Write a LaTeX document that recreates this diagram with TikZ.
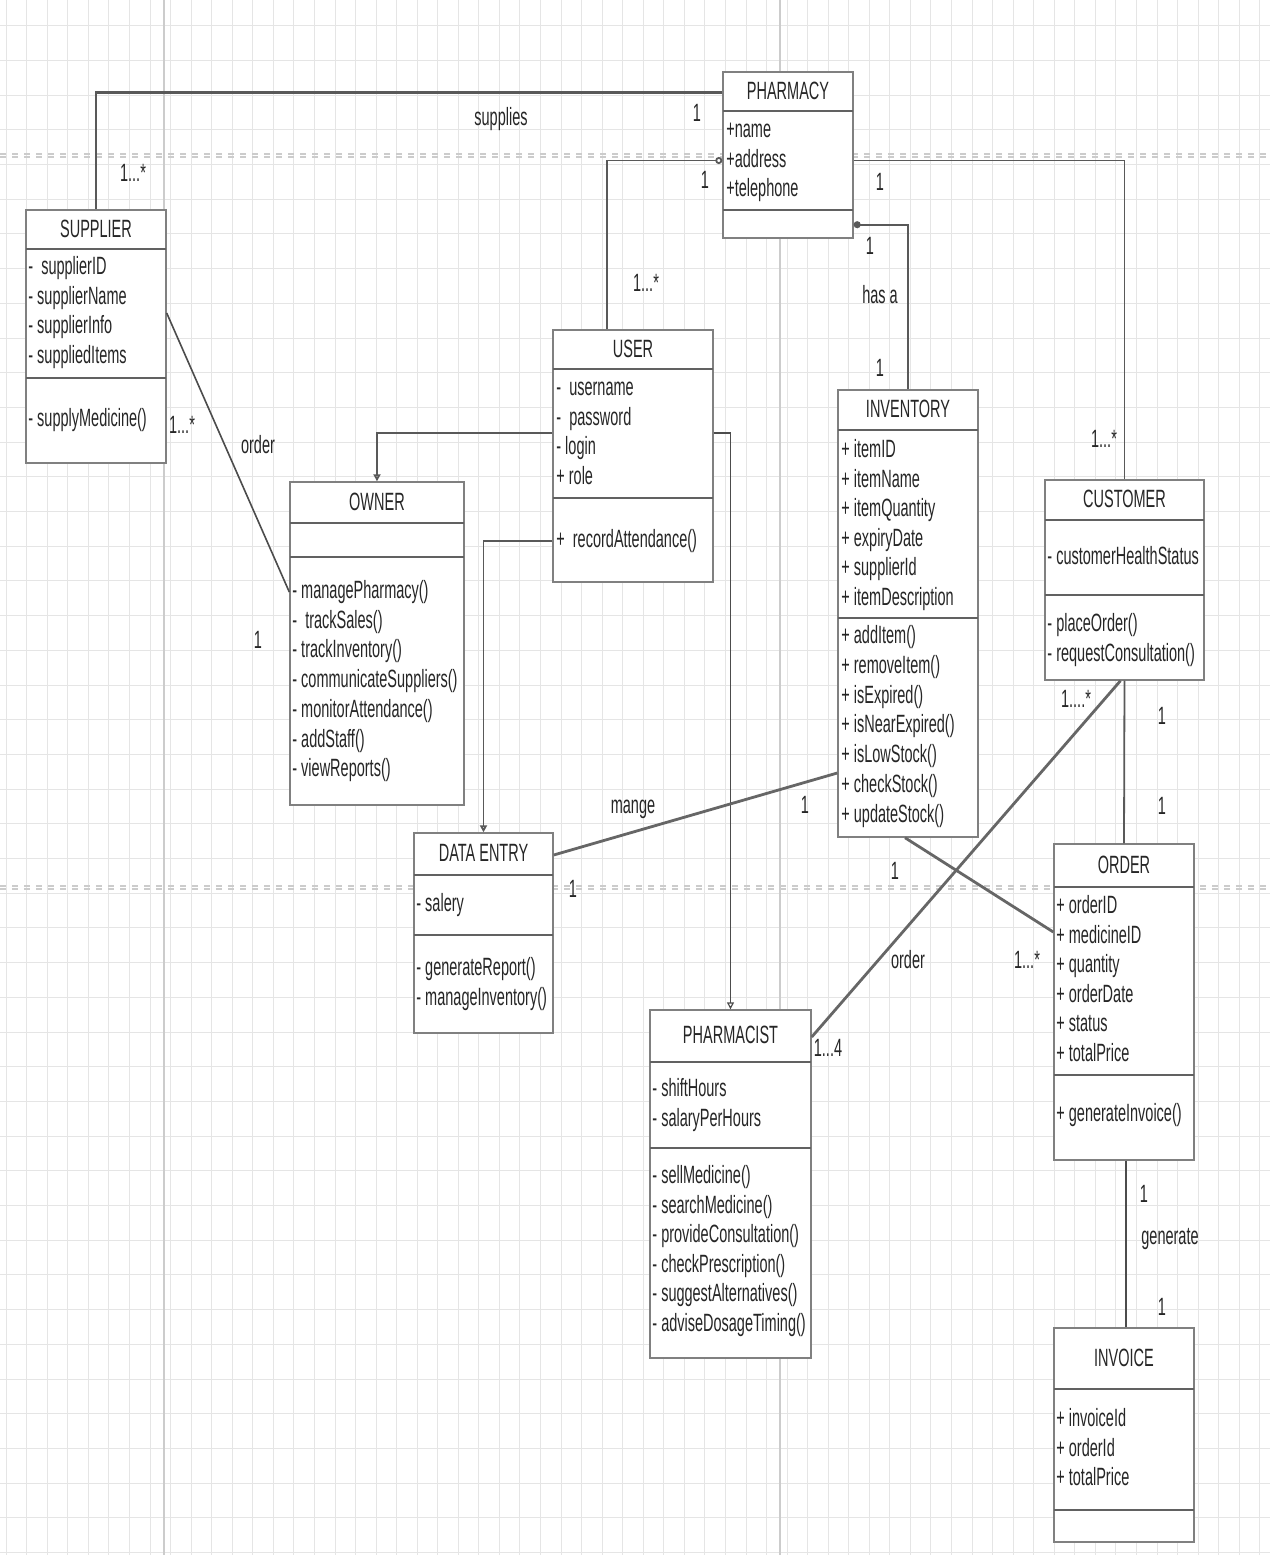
\documentclass[tikz,border=0pt]{standalone}
\usepackage{fontspec}
\setmainfont{Liberation Sans}[FakeStretch=0.58]
\usetikzlibrary{arrows.meta,fit}
\tikzset{
  umlbox/.style={draw=black!50, line width=0.7pt, fill=white, inner sep=0pt},
  divider/.style={draw=black!62, line width=1.3pt},
  ttl/.style={font=\fontsize{12.5pt}{15pt}\selectfont, text=black!85, inner sep=0pt, text height=9pt, text depth=2.5pt},
  txt/.style={ttl, anchor=west},
  lbl/.style={ttl},
  conn/.style={draw=black!65, line width=0.9pt},
  thickconn/.style={draw=black!60, line width=1.4pt},
  thinconn/.style={draw=black!70, line width=0.6pt},
  genarrow/.style={-{Triangle[open,length=3.5pt,width=3.5pt]}},
  gridminor/.style={draw=black!10, line width=0.4pt},
  gridmajor/.style={draw=black!20, line width=0.6pt},
}
\newcommand\classlines[5]{\foreach \t [count=\k] in {#5} {\node[txt] (#1-\k) at (#2,{#3+(\k-1)*#4}) {\t};}}
% name, x1, y1, x2, y2, title, divider1, divider2
\newcommand\umlclass[8]{%
  \node[umlbox, fit={(#2,#3) (#4,#5)}] (#1) {};
  \draw[divider] (#2,#7) -- (#4,#7);
  \draw[divider] (#2,#8) -- (#4,#8);
  \node[ttl] (#1-t) at ({(#2+#4)/2},{(#3+#7)/2+1}) {#6};}
\begin{document}
\begin{tikzpicture}[x=0.5pt,y=-0.5pt]
\useasboundingbox (0,0) rectangle (1270,1555);
\fill[white] (0,0) rectangle (1270,1555);
% background grid
\foreach \gx in {6.1,26.65,...,1270} \draw[gridminor] (\gx,0) -- (\gx,1555);
\foreach \gy in {25.6,60.3,...,1555} \draw[gridminor] (0,\gy) -- (1270,\gy);
\draw[gridmajor] (164,0) -- (164,1555);
\draw[gridmajor] (780,0) -- (780,1555);
\draw[gridmajor, dashed] (0,154) -- (1270,154);
\draw[gridmajor, dashed] (0,157) -- (1270,157);
\draw[gridmajor, dashed] (0,886) -- (1270,886);
\draw[gridmajor, dashed] (0,889) -- (1270,889);

% PHARMACY
\umlclass{pharm}{723}{72}{853}{238}{PHARMACY}{111}{210}
\classlines{pharm-a}{726}{131}{29.5}{+name,+address,+telephone}

% SUPPLIER
\umlclass{sup}{26}{210}{166}{463}{SUPPLIER}{249}{378}
\classlines{sup-a}{28}{268}{29.7}{-\ \ supplierID,- supplierName,- supplierInfo,- suppliedItems}
\classlines{sup-m}{28}{420}{29.7}{- supplyMedicine()}

% USER
\umlclass{user}{553}{330}{713}{582}{USER}{369}{498}
\classlines{user-a}{556}{389}{29.7}{-\ \ username,-\ \ password,- login,+ role}
\classlines{user-m}{556}{541}{29.7}{+\ \ recordAttendance()}

% OWNER
\umlclass{owner}{290}{482}{464}{805}{OWNER}{523}{557}
\classlines{owner-m}{292}{592}{29.7}{- managePharmacy(),-\ \ trackSales(),- trackInventory(),- communicateSuppliers(),- monitorAttendance(),- addStaff(),- viewReports()}

% INVENTORY
\umlclass{inv}{838}{390}{978}{837}{INVENTORY}{430}{618}
\classlines{inv-a}{841}{451}{29.5}{+ itemID,+ itemName,+ itemQuantity,+ expiryDate,+ supplierId,+ itemDescription}
\classlines{inv-m}{841}{637}{29.8}{+ addItem(),+ removeItem(),+ isExpired(),+ isNearExpired(),+ isLowStock(),+ checkStock(),+ updateStock()}

% CUSTOMER
\umlclass{cust}{1045}{480}{1204}{680}{CUSTOMER}{520}{595}
\classlines{cust-a}{1047}{558}{29.5}{- customerHealthStatus}
\classlines{cust-m}{1047}{625}{29.5}{- placeOrder(),- requestConsultation()}

% DATA ENTRY
\umlclass{de}{414}{833}{553}{1033}{DATA ENTRY}{875}{935}
\classlines{de-a}{416}{905}{29.5}{- salery}
\classlines{de-m}{416}{969}{29.5}{- generateReport(),- manageInventory()}

% PHARMACIST
\umlclass{phc}{650}{1010}{811}{1358}{PHARMACIST}{1062}{1148}
\classlines{phc-a}{652}{1090}{29.6}{- shiftHours,- salaryPerHours}
\classlines{phc-m}{652}{1177}{29.6}{- sellMedicine(),- searchMedicine(),- provideConsultation(),- checkPrescription(),- suggestAlternatives(),- adviseDosageTiming()}

% ORDER
\umlclass{order}{1054}{844}{1194}{1160}{ORDER}{887}{1075}
\classlines{order-a}{1056}{907}{29.5}{+ orderID,+ medicineID,+ quantity,+ orderDate,+ status,+ totalPrice}
\classlines{order-m}{1056}{1115}{29.5}{+ generateInvoice()}

% INVOICE
\umlclass{invoice}{1054}{1328}{1194}{1542}{INVOICE}{1389}{1510}
\classlines{invoice-a}{1056}{1420}{29.5}{+ invoiceId,+ orderId,+ totalPrice}

% connectors
\draw[conn, line width=1.2pt] (pharm.west |- pharm-t) -| (sup.north);
\draw[conn, -{Circle[open,length=3.5pt,width=3.5pt]}] ([xshift=-13pt]user.north) |- (pharm.west |- pharm-a-2);
\draw[conn] (pharm.east |- pharm-a-2) -| (cust.north);
\draw[conn, {Circle[length=3.5pt,width=3.5pt]}-] ([yshift=7pt]pharm.south east) -| (inv.north);
\draw[conn, genarrow] ([yshift=11.5pt]user.west) -| (owner.north);
\draw[conn, genarrow] (user.west |- user-m-1) -| (de.north);
\draw[thinconn, genarrow] ([yshift=11.5pt]user.east) -| (phc.north);
\draw[thinconn, line width=0.8pt] ([yshift=11.75pt]sup.east) -- (owner.west |- owner-m-1);
\draw[thickconn] ([yshift=-79.75pt]inv.west) -- (de.east |- de-t);
\draw[thickconn] ([xshift=-2pt]cust.south) -- (phc.east |- phc-t);
\draw[thickconn] ([xshift=-1.5pt]inv.south) -- ([yshift=35pt]order.west);
\draw[conn] (cust.south) -- (order.north);
\draw[thinconn, line width=0.8pt] ([xshift=1pt]order.south) -- ([xshift=1pt]invoice.north);

% labels
\node[lbl] (l1) at (501,119) {supplies};
\node[lbl] (l2) at (697,115) {1};
\node[lbl] (l3) at (133,175) {1...*};
\node[lbl] (l4) at (705,182) {1};
\node[lbl] (l5) at (646,285) {1...*};
\node[lbl] (l6) at (880,184) {1};
\node[lbl] (l7) at (870,248) {1};
\node[lbl] (l8) at (880,297) {has a};
\node[lbl] (l9) at (880,370) {1};
\node[lbl] (l10) at (1104,441) {1...*};
\node[lbl] (l11) at (182,427) {1...*};
\node[lbl] (l12) at (258,447) {order};
\node[lbl] (l13) at (258,642) {1};
\node[lbl] (l14) at (633,807) {mange};
\node[lbl] (l15) at (805,807) {1};
\node[lbl] (l16) at (573,891) {1};
\node[lbl] (l17) at (1076,701) {1....*};
\node[lbl] (l18) at (1162,718) {1};
\node[lbl] (l19) at (1162,808) {1};
\node[lbl] (l20) at (895,873) {1};
\node[lbl] (l21) at (908,962) {order};
\node[lbl] (l22) at (1027,962) {1...*};
\node[lbl] (l23) at (828,1050) {1...4};
\node[lbl] (l24) at (1144,1196) {1};
\node[lbl] (l25) at (1170,1238) {generate};
\node[lbl] (l26) at (1162,1309) {1};
\end{tikzpicture}
\end{document}
